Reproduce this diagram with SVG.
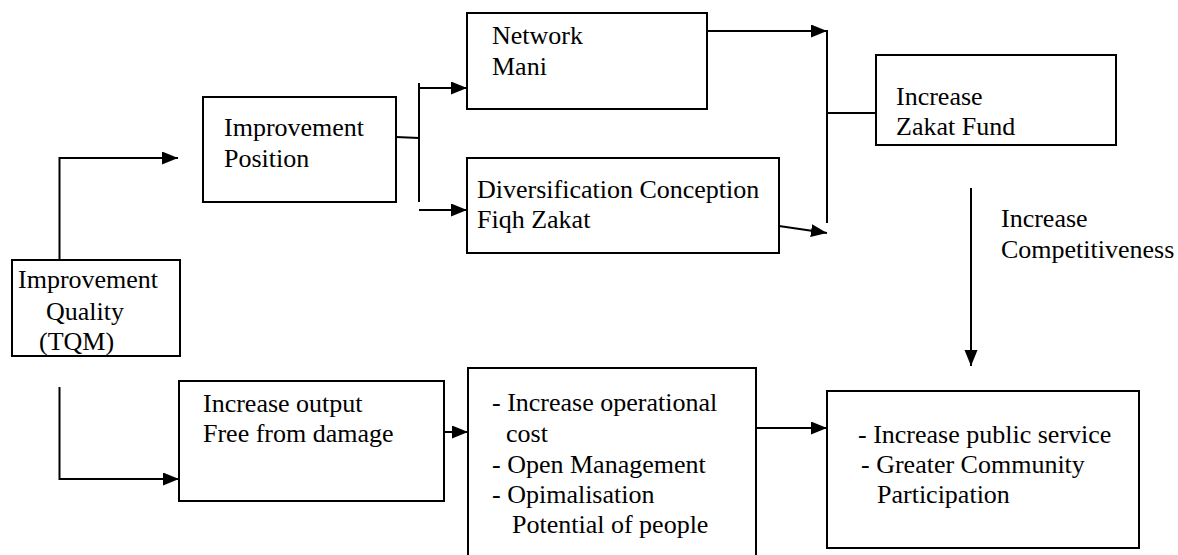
<svg xmlns="http://www.w3.org/2000/svg" width="1178" height="555" viewBox="0 0 1178 555" font-family="'Liberation Serif', 'Times New Roman', serif" font-size="26">
<style>
.box{fill:#fff;stroke:#000;stroke-width:2}
.ln{fill:none;stroke:#000;stroke-width:2}
.t{font-family:'Liberation Serif','Times New Roman',serif;font-size:26px;fill:#000}
</style>
<defs>
<marker id="ah" markerUnits="userSpaceOnUse" markerWidth="18" markerHeight="16" refX="16" refY="6.5" orient="auto">
<path d="M0,0 L16,6.5 L0,13 z" fill="#000"/>
</marker>
</defs>
<rect width="1178" height="555" fill="#fff"/>
<g id="connectors">
<path class="ln" d="M59.5,260 V158 H178" marker-end="url(#ah)"/>
<path class="ln" d="M396,137 L419,138"/>
<path class="ln" d="M419,83 V202"/>
<path class="ln" d="M419,88 H467" marker-end="url(#ah)"/>
<path class="ln" d="M419,210 H467" marker-end="url(#ah)"/>
<path class="ln" d="M707,31 H827" marker-end="url(#ah)"/>
<path class="ln" d="M779,226 L827,233" marker-end="url(#ah)"/>
<path class="ln" d="M827,30 V223"/>
<path class="ln" d="M827,113 H876"/>
<path class="ln" d="M971,188 V366" marker-end="url(#ah)"/>
<path class="ln" d="M59.5,387 V479 H179" marker-end="url(#ah)"/>
<path class="ln" d="M444,432 H468" marker-end="url(#ah)"/>
<path class="ln" d="M756,428 H827" marker-end="url(#ah)"/>
</g>
<g id="tqm">
<rect class="box" x="12" y="260" width="168" height="96"/>
<text class="t" x="18" y="288">Improvement</text>
<text class="t" x="46" y="320">Quality</text>
<text class="t" x="39" y="350">(TQM)</text>
</g>
<g id="position">
<rect class="box" x="203" y="97" width="193" height="105"/>
<text class="t" x="224" y="136">Improvement</text>
<text class="t" x="224" y="167">Position</text>
</g>
<g id="network">
<rect class="box" x="467" y="13" width="240" height="96"/>
<text class="t" x="492" y="44">Network</text>
<text class="t" x="492" y="75">Mani</text>
</g>
<g id="diversification">
<rect class="box" x="467" y="158" width="312" height="95"/>
<text class="t" x="477" y="198">Diversification Conception</text>
<text class="t" x="477" y="228">Fiqh Zakat</text>
</g>
<g id="zakatfund">
<rect class="box" x="876" y="55" width="240" height="90"/>
<text class="t" x="896" y="105">Increase</text>
<text class="t" x="896" y="135">Zakat Fund</text>
</g>
<g id="competitiveness">
<text class="t" x="1001" y="227">Increase</text>
<text class="t" x="1001" y="258">Competitiveness</text>
</g>
<g id="output">
<rect class="box" x="179" y="381" width="265" height="120"/>
<text class="t" x="203" y="412">Increase output</text>
<text class="t" x="203" y="442">Free from damage</text>
</g>
<g id="operational">
<rect class="box" x="468" y="368" width="288" height="200"/>
<text class="t" x="492" y="411">- Increase operational</text>
<text class="t" x="506" y="442">cost</text>
<text class="t" x="492" y="473">- Open Management</text>
<text class="t" x="492" y="503">- Opimalisation</text>
<text class="t" x="512" y="533">Potential of people</text>
</g>
<g id="public">
<rect class="box" x="827" y="391" width="312" height="157"/>
<text class="t" x="858" y="443">- Increase public service</text>
<text class="t" x="861" y="473">- Greater Community</text>
<text class="t" x="877" y="503">Participation</text>
</g>
</svg>
